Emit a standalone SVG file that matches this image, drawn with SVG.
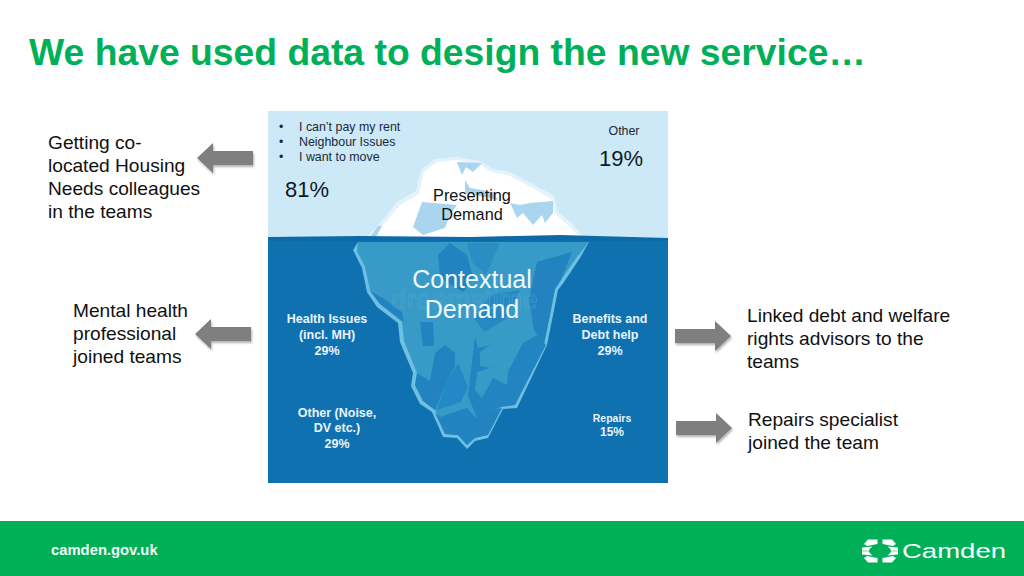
<svg xmlns="http://www.w3.org/2000/svg" width="1024" height="576" viewBox="0 0 1024 576">
<style>
text{font-family:"Liberation Sans",Arial,sans-serif}
.body{font-size:19.15px;fill:#111}
.bul{font-size:12.4px;fill:#1a2a3a}
.pct{font-size:22px;fill:#0d1a26}
.wl{font-size:12.5px;font-weight:bold;fill:#e8f4fb;text-anchor:middle}
.mid{text-anchor:middle}
.arrow{fill:#7f7f7f;filter:url(#sh)}
.dk{fill:#2183c0}
.br{fill:#2388c6}
.sky{fill:#a9d5ee}
</style>
<defs>
<filter id="sh" x="-10%" y="-10%" width="125%" height="130%"><feDropShadow dx="1" dy="2" stdDeviation="1.2" flood-color="#000" flood-opacity=".3"/></filter>
<filter id="soft" x="-5%" y="-5%" width="110%" height="110%"><feGaussianBlur stdDeviation="0.5"/></filter>
<path id="q" d="M868 539.5H877.5V544L867 546L864 544ZM862 547.5L872.5 546.5Q869.5 548.5 869 550.8H862Z"/>
</defs>
<rect width="1024" height="576" fill="#fff"/>
<text id="title" x="29" y="65" font-size="37.3" font-weight="bold" fill="#00b058">We have used data to design the new service…</text>

<g id="iceberg">
<rect x="268" y="111" width="400" height="127" fill="#cde8f6"/>
<rect x="268" y="238" width="400" height="245" fill="#1071b0"/>
<g filter="url(#soft)">
<path d="M366 238L380 223L397 202L416 191L421 170L435 159L457 157L480 161L493 169L510 172L533 184L554 196L558 212L573 224L585 238Z" fill="#e4f3fa"/>
<path d="M373 238L384 224L400 205L419 194L424 172L437 162L457 160L479 164L491 172L508 175L531 187L551 199L555 214L570 227L581 238Z" fill="#fff"/>
<path class="sky" d="M457 162L482 163L473 172L466 167L462 175Z"/>
<path class="sky" d="M465 180L470 188L493 192L498 200L465 193Z"/>
<path class="sky" d="M422 202L433 203L457 205L450 215L445 228L423 235L413 227Z"/>
<path class="sky" d="M510 203L520 205L530 203L553 201L553 213L545 223L542 215L533 225L523 213L517 218Z"/>
<path d="M370 237L378 226L382 226L376 237Z" class="sky"/>
<path d="M268 237L360 236L470 237L560 235L668 238V241H268Z" fill="#0e6ba8"/>
<path d="M353 250L358 242L589 242L580 258L564 282L558 290L553 315L547 345L517 408L503 409L488 438L475 441L467 449L457 438L443 437L432 412L420 404L411 386L413 373L400 342L398 323L377 307L367 292L362 268Z" fill="#6ec0e2"/>
<path d="M357 251L358 242H589L577 257L561 280L555 289L550 315L544 344L515 405L501 405L486 435L474 438L467 445L458 435L445 434L435 410L423 401L415 385L417 373L404 341L402 322L380 304L370 290L365 267Z" fill="#399bc7"/>
<path class="dk" d="M438 255L450 243L467 255L473 278L463 292L440 278Z"/>
<path class="dk" d="M467 243L500 243L486 275L472 262Z" opacity=".55"/>
<path class="dk" d="M537 262L572 252L561 280L555 289L550 315L544 344L534 330L529 300Z"/>
<path class="dk" d="M370 291L383 298L402 312L404 322L380 304Z"/>
<path class="dk" d="M420 322L433 322L434 346L423 346Z"/>
<path class="dk" d="M490 295L520 290L505 320L484 332L474 318Z" opacity=".7"/>
<path class="dk" d="M417 373L430 381L435 353L445 345L455 353L455 366L445 386L435 410L423 401L415 385Z"/>
<path class="br" d="M458 363L468 387L461 402L437 410L445 386Z"/>
<path class="dk" d="M440 417L467 408L478 420L490 410L502 408L488 435L475 438L467 445L458 435L445 434L435 413Z"/>
<path class="dk" d="M475 337L478 348L490 345L502 353L502 365L490 368L477 372L475 390L482 398L493 378L507 385L508 372L523 343L537 335L546 345L515 405L502 407L490 410L478 420L468 396Z" opacity=".95"/>
<path d="M480 352L490 345L502 353L502 365L490 368L480 366Z" fill="#399bc7"/>
</g>
<text x="391" y="309" font-size="28" textLength="147" lengthAdjust="spacingAndGlyphs" fill="none" stroke="#5aa7d3" stroke-width=".7" opacity=".6">dreamstime</text>
</g>

<g id="presenting-left">
<text class="bul" x="279" y="131">•</text><text class="bul" x="299" y="131">I can’t pay my rent</text>
<text class="bul" x="279" y="146">•</text><text class="bul" x="299" y="146">Neighbour Issues</text>
<text class="bul" x="279" y="161">•</text><text class="bul" x="299" y="161">I want to move</text>
<text class="pct" x="285" y="197">81%</text>
</g>
<g id="presenting-other">
<text class="bul mid" x="624" y="135">Other</text>
<text class="pct mid" x="621" y="166">19%</text>
</g>
<g id="presenting-demand">
<text class="mid" font-size="16.3" fill="#111" x="472" y="201">Presenting</text>
<text class="mid" font-size="16.3" fill="#111" x="472" y="220">Demand</text>
</g>
<g id="contextual-demand">
<text class="mid" font-size="25" fill="#f2f9fd" x="472" y="288">Contextual</text>
<text class="mid" font-size="25" fill="#f2f9fd" x="472" y="318">Demand</text>
</g>
<g id="health">
<text class="wl" x="327" y="323">Health Issues</text>
<text class="wl" x="327" y="339">(incl. MH)</text>
<text class="wl" x="327" y="355">29%</text>
</g>
<g id="benefits">
<text class="wl" x="610" y="323">Benefits and</text>
<text class="wl" x="610" y="339">Debt help</text>
<text class="wl" x="610" y="355">29%</text>
</g>
<g id="other">
<text class="wl" x="337" y="417">Other (Noise,</text>
<text class="wl" x="337" y="432">DV etc.)</text>
<text class="wl" x="337" y="448">29%</text>
</g>
<g id="repairs">
<text class="wl" style="font-size:10.5px" x="612" y="422">Repairs</text>
<text class="wl" style="font-size:12px" x="612" y="436">15%</text>
</g>

<g id="action-housing" class="body">
<text x="48" y="148.500">Getting co-</text>
<text x="48" y="171.500">located Housing</text>
<text x="48" y="194.500">Needs colleagues</text>
<text x="48" y="217.500">in the teams</text>
</g>
<g id="action-mental" class="body">
<text x="73" y="316.500">Mental health</text>
<text x="73" y="339.500">professional</text>
<text x="73" y="362.500">joined teams</text>
</g>
<g id="action-debt" class="body">
<text x="747" y="321.500">Linked debt and welfare</text>
<text x="747" y="344.500">rights advisors to the</text>
<text x="747" y="367.500">teams</text>
</g>
<g id="action-repairs" class="body">
<text x="748" y="425.500">Repairs specialist</text>
<text x="748" y="448.500">joined the team</text>
</g>

<g id="connectors">
<path class="arrow" d="M253 151H213V143L197 158L213 173V165H253Z"/>
<path class="arrow" d="M251 327H211V319L195 334L211 349V341H251Z"/>
<path class="arrow" d="M675 329H715V321L731 336L715 351V343H675Z"/>
<path class="arrow" d="M676 421H716V413L732 428L716 443V435H676Z"/>
</g>

<g id="footer">
<rect y="521" width="1024" height="55" fill="#00b058"/>
<text x="51" y="555" font-size="14.8" font-weight="bold" fill="#eef9f2">camden.gov.uk</text>
<g id="logo" fill="#fff">
<use href="#q"/>
<use href="#q" transform="translate(1760,0) scale(-1,1)"/>
<use href="#q" transform="translate(0,1102) scale(1,-1)"/>
<use href="#q" transform="translate(1760,1102) scale(-1,-1)"/>
<text x="902" y="558" font-size="20.5" textLength="104" lengthAdjust="spacingAndGlyphs" fill="#fff">Camden</text>
</g>
</g>
</svg>
